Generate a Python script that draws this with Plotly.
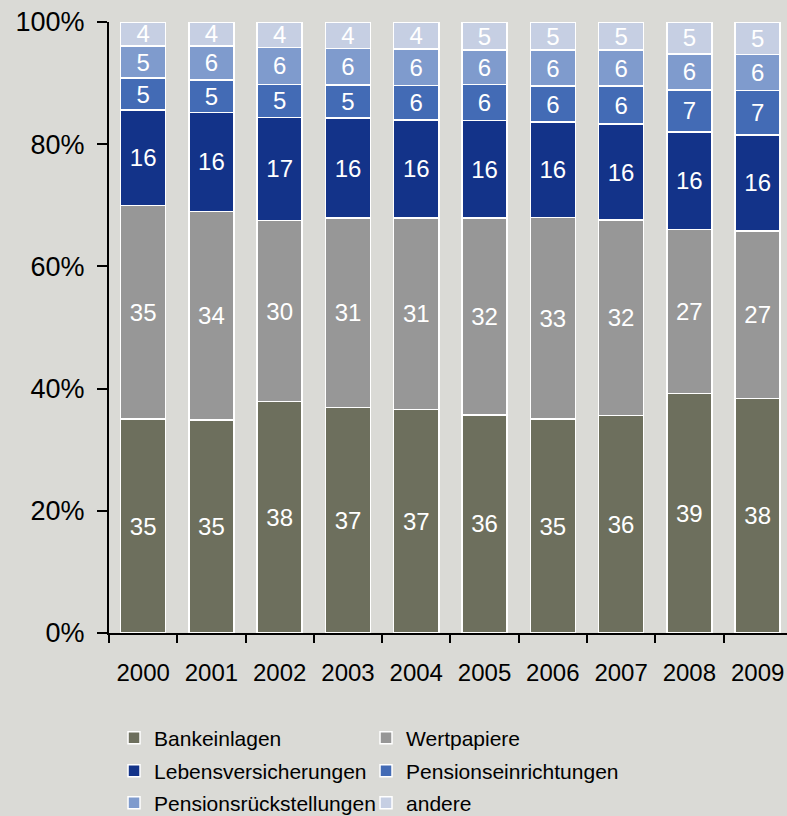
import plotly.graph_objects as go

years = ["2000", "2001", "2002", "2003", "2004", "2005", "2006", "2007", "2008", "2009"]
bankeinlagen = [35.0, 34.9, 37.9, 36.9, 36.6, 35.7, 35.0, 35.6, 39.2, 38.4]
wertpapiere = [35.0, 34.1, 29.6, 31.0, 31.3, 32.2, 33.0, 32.0, 26.8, 27.4]
lebensvers = [15.6, 16.2, 16.9, 16.4, 16.1, 16.0, 15.6, 15.7, 16.0, 15.7]
pensionseinr = [5.2, 5.3, 5.4, 5.4, 5.6, 5.9, 5.9, 6.2, 6.9, 7.3]
pensionsrueck = [5.3, 5.6, 6.0, 6.0, 6.0, 5.6, 5.9, 5.9, 5.9, 5.9]
andere = [3.9, 3.9, 4.2, 4.3, 4.4, 4.6, 4.6, 4.6, 5.2, 5.3]

y_tickvals = [0, 20, 40, 60, 80, 100]
y_ticktext = ["0%", "20%", "40%", "60%", "80%", "100%"]

series = [
    ("Bankeinlagen", bankeinlagen, "#6d6f5d", "legend"),
    ("Wertpapiere", wertpapiere, "#979797", "legend"),
    ("Lebensversicherungen", lebensvers, "#133389", "legend2"),
    ("Pensionseinrichtungen", pensionseinr, "#436bb5", "legend2"),
    ("Pensionsrückstellungen", pensionsrueck, "#7f9bcd", "legend3"),
    ("andere", andere, "#c6cfe3", "legend3"),
]

FONT = "Liberation Sans, Arial, sans-serif"
fig = go.Figure()
for name, vals, col, leg in series:
    fig.add_trace(go.Bar(
        x=years, y=vals, name=name, legend=leg,
        marker=dict(color=col, line=dict(color="white", width=1.5)),
        texttemplate="%{y:.0f}", textposition="inside", insidetextanchor="middle",
        textangle=0,
        textfont=dict(color="white", size=24, family=FONT),
        hoverinfo="x+y+name",
    ))

H_TOP, H_BOT = 22, 183
plot_h = 816 - H_TOP - H_BOT
y0_px = 816 - H_BOT


def leg_cfg(center_px):
    return dict(
        orientation="h", x=0.0074, xanchor="left",
        y=(y0_px - center_px) / plot_h, yanchor="middle",
        entrywidth=207, entrywidthmode="pixels", traceorder="normal",
        font=dict(size=21, family=FONT, color="black"), bgcolor="rgba(0,0,0,0)",
        itemclick=False, itemdoubleclick=False,
    )


fig.update_layout(
    barmode="stack", bargap=0.34,
    width=787, height=816,
    paper_bgcolor="#dadad6", plot_bgcolor="#dadad6",
    margin=dict(l=109, r=0, t=H_TOP, b=H_BOT, autoexpand=False),
    font=dict(family=FONT, size=24, color="black"),
    uniformtext=dict(mode="show", minsize=24),
    showlegend=True,
    legend=leg_cfg(738),
    legend2=leg_cfg(771),
    legend3=leg_cfg(803),
    xaxis=dict(
        range=[-0.5, 9.43],
        showline=True, linecolor="black", linewidth=2,
        ticks="outside", ticklen=8, tickwidth=2, tickcolor="black",
        tickson="boundaries", showgrid=False,
        tickfont=dict(size=24, family=FONT),
        ticklabelstandoff=17,
    ),
    yaxis=dict(
        range=[0, 100], tickvals=y_tickvals, ticktext=y_ticktext,
        showline=True, linecolor="black", linewidth=2,
        ticks="outside", ticklen=10, tickwidth=2, tickcolor="black",
        showgrid=False, zeroline=False,
        tickfont=dict(size=27, family=FONT),
        ticklabelstandoff=7,
    ),
)

fig.write_html(
    "out.html",
    config={"displayModeBar": False},
    post_script="document.body.style.margin='0';document.body.style.overflow='hidden';",
)
